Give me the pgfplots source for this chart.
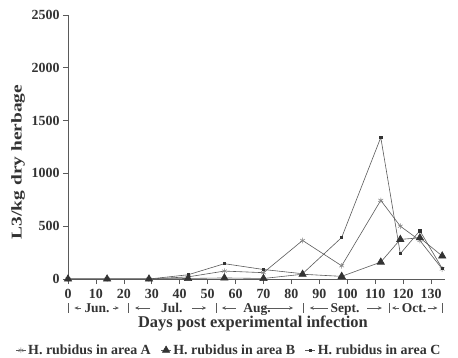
\documentclass[border=0pt]{standalone}
\usepackage{pgfplots}
\pgfplotsset{compat=1.18}
\usetikzlibrary{arrows.meta}
\usepackage{fontspec}
\setmainfont{Liberation Serif}
\definecolor{ink}{HTML}{333333}
\definecolor{ln}{HTML}{5A5A5A}
\tikzset{marr/.style={ln, line width=0.6bp, -{Stealth[length=4bp,width=3.5bp]}}}
\begin{document}
\begin{tikzpicture}
\begin{axis}[
  scale only axis, width=377bp, height=264bp,
  xmin=0, xmax=135, ymin=0, ymax=2500,
  axis x line=bottom, axis y line=left,
  axis line style={-, ln, line width=0.6bp},
  xtick={0,10,...,130}, ytick={0,500,...,2500},
  tick align=outside, major tick length=5bp,
  tick style={ln, line width=0.6bp},
  ticklabel style={font=\bfseries\fontsize{14}{14}\selectfont, text=ink},
  /pgf/number format/assume math mode=true,
  /pgf/number format/1000 sep={},
  xticklabel style={inner sep=0.5bp, yshift=-5bp},
  clip=false,
  legend style={draw=none, fill=none, at={(0.427,-0.27)}, anchor=center,
    font=\bfseries\fontsize{14}{14}\selectfont, text=ink,
    legend columns=3, /tikz/every even column/.append style={column sep=8bp},
    inner sep=0pt},
  legend image code/.code={\draw[#1, mark repeat=2, mark phase=2] plot coordinates {(0bp,0bp) (5bp,0bp) (10bp,0bp)};},
  every axis plot/.append style={line width=0.6bp, ln},
]
\addplot[ln, mark=asterisk, mark size=2.8bp, mark options={line width=0.5bp, draw=gray}]
 coordinates {(0,0)(14,0)(29,0)(43,20)(56,75)(70,60)(84,365)(98,125)(112,745)(119,500)(126,365)(134,95)};
\addlegendentry{H. rubidus in area A}
\addplot[ln, mark=triangle*, mark size=4.2bp, mark options={fill=ink, draw=ink}]
 coordinates {(0,0)(14,0)(29,0)(43,5)(56,10)(70,5)(84,45)(98,25)(112,160)(119,375)(126,390)(134,218)};
\addlegendentry{H. rubidus in area B}
\addplot[ln, mark=square*, mark size=1.1bp, mark options={fill=ink, draw=ink}]
 coordinates {(0,0)(14,0)(29,0)(43,40)(56,145)(70,90)(84,50)(98,393)(112,1340)(119,240)(126,457)(134,100)};
\addlegendentry{H. rubidus in area C}

% month row separators
\draw[ln, line width=0.6bp] ([yshift=-24bp]axis cs:0,0) -- ([yshift=-34bp]axis cs:0,0);
\draw[ln, line width=0.6bp] ([yshift=-24bp]axis cs:21.5,0) -- ([yshift=-34bp]axis cs:21.5,0);
\draw[ln, line width=0.6bp] ([yshift=-24bp]axis cs:53,0) -- ([yshift=-34bp]axis cs:53,0);
\draw[ln, line width=0.6bp] ([yshift=-24bp]axis cs:84.2,0) -- ([yshift=-34bp]axis cs:84.2,0);
\draw[ln, line width=0.6bp] ([yshift=-24bp]axis cs:115,0) -- ([yshift=-34bp]axis cs:115,0);
\draw[ln, line width=0.6bp] ([yshift=-24bp]axis cs:134,0) -- ([yshift=-34bp]axis cs:134,0);
\node[font=\bfseries\fontsize{13.5}{13.5}\selectfont, text=ink, inner sep=0pt, anchor=base] at ([yshift=-33bp]axis cs:10.4,0) {Jun.};
\node[font=\bfseries\fontsize{13.5}{13.5}\selectfont, text=ink, inner sep=0pt, anchor=base] at ([yshift=-33bp]axis cs:37.2,0) {Jul.};
\node[font=\bfseries\fontsize{13.5}{13.5}\selectfont, text=ink, inner sep=0pt, anchor=base] at ([yshift=-33bp]axis cs:67.7,0) {Aug.};
\node[font=\bfseries\fontsize{13.5}{13.5}\selectfont, text=ink, inner sep=0pt, anchor=base] at ([yshift=-33bp]axis cs:99.2,0) {Sept.};
\node[font=\bfseries\fontsize{13.5}{13.5}\selectfont, text=ink, inner sep=0pt, anchor=base] at ([yshift=-33bp]axis cs:123.9,0) {Oct.};
% arrows
\draw[marr] ([yshift=-29bp]axis cs:4.6,0) -- ([yshift=-29bp]axis cs:2.3,0);
\draw[marr] ([yshift=-29bp]axis cs:16.1,0) -- ([yshift=-29bp]axis cs:18.2,0);
\draw[marr] ([yshift=-29bp]axis cs:29.5,0) -- ([yshift=-29bp]axis cs:24.0,0);
\draw[marr] ([yshift=-29bp]axis cs:44.4,0) -- ([yshift=-29bp]axis cs:49.5,0);
\draw[marr] ([yshift=-29bp]axis cs:60.0,0) -- ([yshift=-29bp]axis cs:55.1,0);
\draw[marr] ([yshift=-29bp]axis cs:69.8,0) -- ([yshift=-29bp]axis cs:80.6,0);
\draw[marr] ([yshift=-29bp]axis cs:93.0,0) -- ([yshift=-29bp]axis cs:86.6,0);
\draw[marr] ([yshift=-29bp]axis cs:107.1,0) -- ([yshift=-29bp]axis cs:112.4,0);
\draw[marr] ([yshift=-29bp]axis cs:118.6,0) -- ([yshift=-29bp]axis cs:116.0,0);
\draw[marr] ([yshift=-29bp]axis cs:128.9,0) -- ([yshift=-29bp]axis cs:132.3,0);
\node[font=\bfseries\fontsize{16.5}{16.5}\selectfont, text=ink, inner sep=0pt] at ([yshift=-44bp]axis cs:66.2,0) {Days post experimental infection};
\end{axis}
\node[rotate=90, font=\bfseries\fontsize{15}{15}\selectfont, text=ink, inner sep=0pt] at (-50bp,117bp) {\scalebox{1.3}[1]{L3/kg dry herbage}};
\pgfresetboundingbox
\path (-68bp,-79bp) rectangle (390bp,279bp);
\end{tikzpicture}
\end{document}
